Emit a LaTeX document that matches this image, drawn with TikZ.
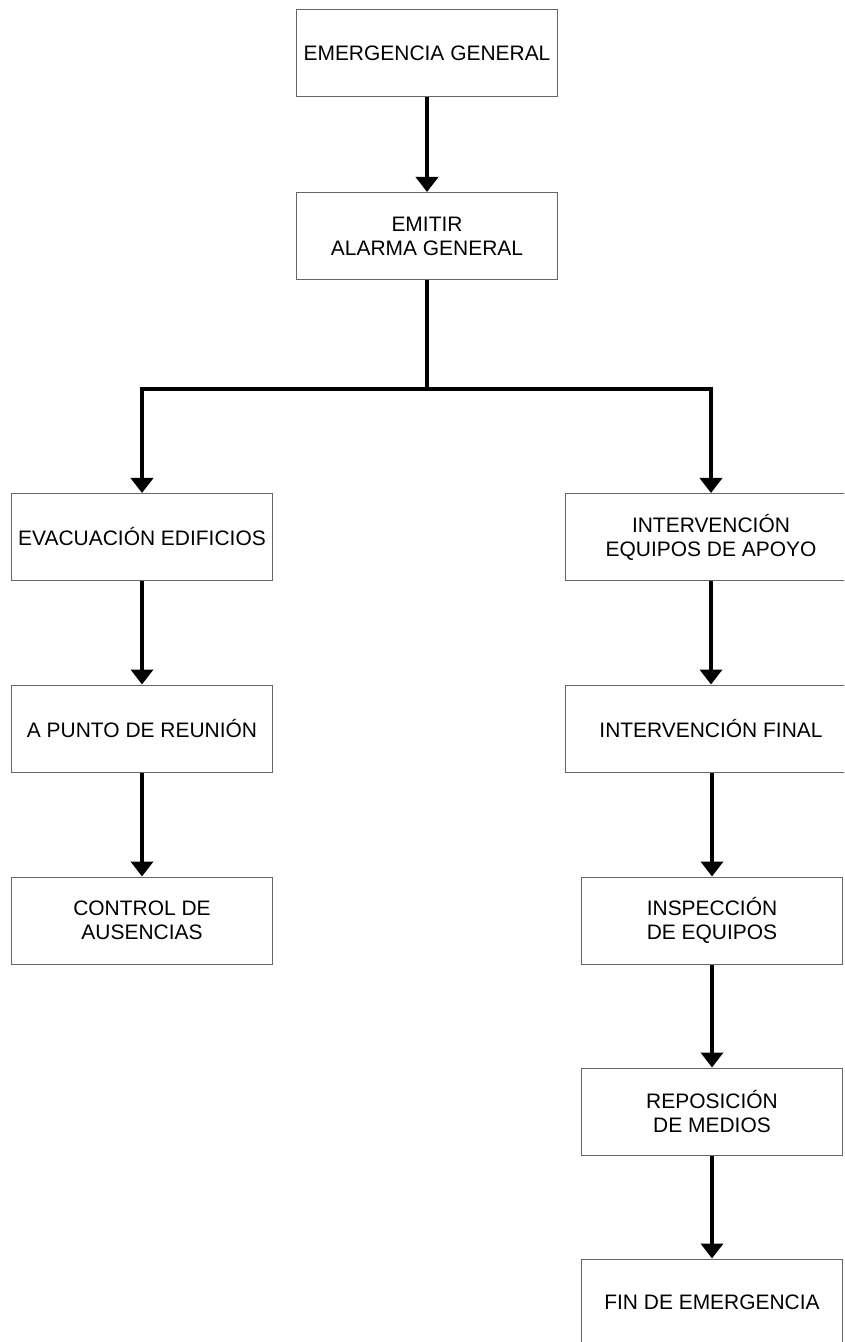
\documentclass[tikz,border=0pt]{standalone}
\usepackage{fontspec}
\setmainfont{Liberation Sans}
\usetikzlibrary{arrows.meta}

\tikzset{
  caja/.style={shape=rectangle, draw=black!60, line width=0.7pt, fill=white,
    minimum width=6.5cm, minimum height=2.175cm, align=center, inner xsep=1pt,
    font=\fontsize{14.9}{17.2}\selectfont},
  cajaancha/.style={caja, minimum width=7.25cm},
  linea/.style={line width=2.8pt, draw=black},
  flecha/.style={linea, -{Triangle[length=0.375cm, width=0.55cm]}}
}

\begin{document}
\begin{tikzpicture}[x=0.025cm, y=-0.025cm]
\useasboundingbox (0,0) rectangle (844,1342);
\clip (0,0) rectangle (844,1342);
% tronco
\node[caja] (EG) at (427,53) {EMERGENCIA GENERAL};
\node[caja] (AG) at (427,236) {EMITIR\\ALARMA GENERAL};
\coordinate (J) at (427,389);
% rama izquierda
\node[caja] (EV) at (142,537) {EVACUACIÓN EDIFICIOS};
\node[caja] (PR) at (142,728.5) {A PUNTO DE REUNIÓN};
\node[caja] (CA) at (142,920.5) {CONTROL DE\\AUSENCIAS};
% rama derecha
\node[cajaancha] (IE) at (711,537) {INTERVENCIÓN\\EQUIPOS DE APOYO};
\node[cajaancha] (IF) at (711,728.5) {INTERVENCIÓN FINAL};
\node[caja] (IN) at (712,920.5) {INSPECCIÓN\\DE EQUIPOS};
\node[caja] (RM) at (712,1111.5) {REPOSICIÓN\\DE MEDIOS};
\node[caja] (FE) at (712,1302.5) {FIN DE EMERGENCIA};
% conexiones
\draw[flecha] (EG) -- (AG);
\draw[linea] (AG) -- (J);
\draw[flecha] (J) -| (EV);
\draw[flecha] (J) -| (IE);
\draw[flecha] (EV) -- (PR);
\draw[flecha] (PR) -- (CA);
\draw[flecha] (IE) -- (IF);
\draw[flecha] (IF.south -| IN) -- (IN);
\draw[flecha] (IN) -- (RM);
\draw[flecha] (RM) -- (FE);
\end{tikzpicture}
\end{document}
